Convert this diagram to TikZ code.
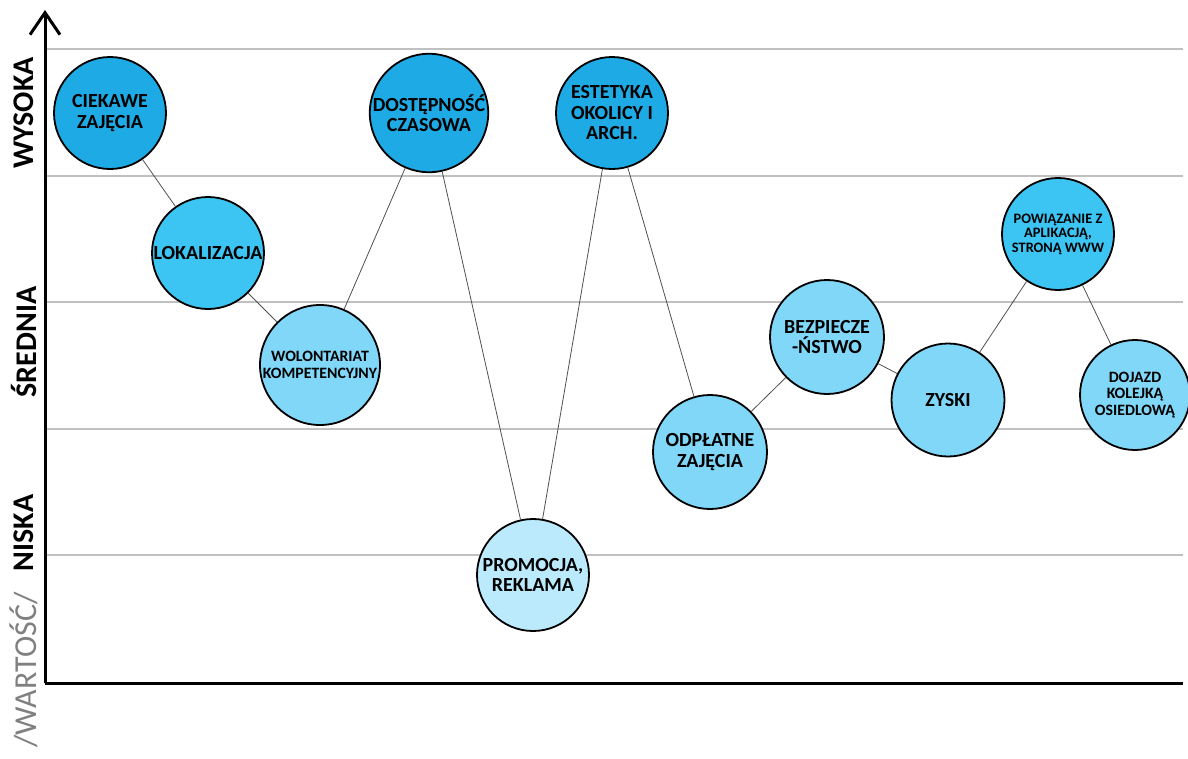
\documentclass[tikz,border=0pt]{standalone}
\usepackage{fontspec}
\setmainfont{Carlito}
\usetikzlibrary{arrows.meta}
\definecolor{cdark}{HTML}{1EAAE4}
\definecolor{cmid}{HTML}{3CC4F3}
\definecolor{clight}{HTML}{80D7F8}
\definecolor{cpale}{HTML}{BBEAFC}
\definecolor{gridgray}{HTML}{C0C0C0}
\definecolor{linkgray}{HTML}{505050}
\tikzset{
  bubble/.style={circle, draw=black, line width=1.8pt, minimum size=#1, inner sep=0pt,
    align=center, text=black, font=\fontsize{20}{20.5}\selectfont\bfseries},
  bubble/.default=112pt,
  small/.style={font=\fontsize{15.8}{16.5}\selectfont\bfseries},
  tiny/.style={font=\fontsize{14.4}{14.5}\selectfont\bfseries},
  link/.style={draw=linkgray, line width=0.8pt},
  gridline/.style={draw=gridgray, line width=1.2pt},
  axislabel/.style={rotate=90, font=\fontsize{30}{32}\selectfont\bfseries},
}
\begin{document}
\begin{tikzpicture}[x=1pt,y=-1pt]
\useasboundingbox (0,0) rectangle (1188,758);

% horizontal guide lines
\foreach \yy in {49,176,302,429,555}
  \draw[gridline] (45,\yy) -- (1183,\yy);

% axes
\coordinate (origin) at (45,683);
\coordinate (ytop) at (45,10);
\coordinate (xend) at (1183,683);
\draw[line width=3pt, -{Straight Barb[length=22pt,width=30pt,line width=3pt]}] (origin) -- (ytop);
\draw[line width=3pt] (origin) -- (xend);

% axis labels
\node[axislabel] (lhigh) at (24,113) {WYSOKA};
\node[axislabel] (lmid) at (24,342) {ŚREDNIA};
\node[axislabel] (llow) at (24,533) {NISKA};
\node[axislabel, font=\fontsize{32}{34}\selectfont, text=gray] (lval) at (24,670) {/WARTOŚĆ/};

% bubbles
\node[bubble, fill=cdark] (ciek) at (110,113) {CIEKAWE\\ZAJĘCIA};
\node[bubble, fill=cmid] (lok) at (208,253) {LOKALIZACJA};
\node[bubble=120pt, fill=clight, small] (wol) at (320,365) {WOLONTARIAT\\KOMPETENCYJNY};
\node[bubble, fill=cdark] (dost) at (429,113) {DOSTĘPNOŚĆ\\CZASOWA};
\node[bubble, fill=cpale] (prom) at (533,575) {PROMOCJA,\\REKLAMA};
\node[bubble, fill=cdark] (est) at (612,113) {ESTETYKA\\OKOLICY I\\ARCH.};
\node[bubble=114pt, fill=clight] (odp) at (710,452) {ODPŁATNE\\ZAJĘCIA};
\node[bubble=114pt, fill=clight] (bez) at (827,337) {BEZPIECZE\\-ŃSTWO};
\node[bubble=113pt, fill=clight] (zys) at (948,400) {ZYSKI};
\node[bubble, fill=cmid, tiny] (pow) at (1058,234) {POWIĄZANIE Z\\APLIKACJĄ,\\STRONĄ WWW};
\node[bubble=110pt, fill=clight, small] (doj) at (1135,395) {DOJAZD\\KOLEJKĄ\\OSIEDLOWĄ};

% connectors
\draw[link] (ciek) -- (lok);
\draw[link] (lok) -- (wol);
\draw[link] (wol) -- (dost);
\draw[link] (dost) -- (prom);
\draw[link] (prom) -- (est);
\draw[link] (est) -- (odp);
\draw[link] (odp) -- (bez);
\draw[link] (bez) -- (zys);
\draw[link] (zys) -- (pow);
\draw[link] (pow) -- (doj);
\end{tikzpicture}
\end{document}
